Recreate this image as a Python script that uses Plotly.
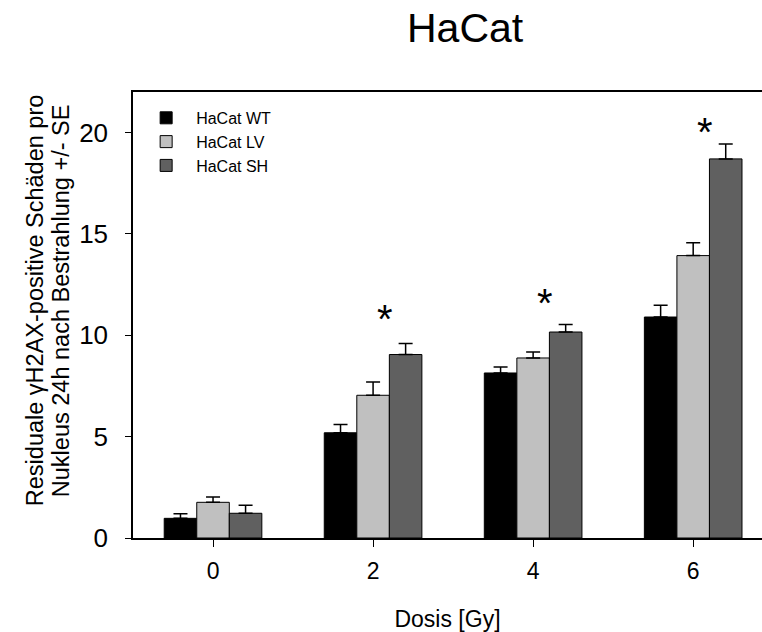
import plotly.graph_objects as go

doses = [0, 2, 4, 6]
series_names = ["HaCat WT", "HaCat LV", "HaCat SH"]
wt_mean = [0.97, 5.19, 8.14, 10.9]
wt_se = [0.23, 0.41, 0.30, 0.58]
lv_mean = [1.76, 7.04, 8.88, 13.93]
lv_se = [0.26, 0.66, 0.30, 0.64]
sh_mean = [1.22, 9.05, 10.16, 18.7]
sh_se = [0.39, 0.55, 0.37, 0.74]
star_doses = [2, 4, 6]
star_y = [11.1, 11.9, 20.3]
y_title_lines = ["Residuale γH2AX-positive Schäden pro", "Nukleus 24h nach Bestrahlung +/- SE"]

colors = ["#000000", "#c0c0c0", "#606060"]
FONT = "Arial, 'Liberation Sans', sans-serif"

fig = go.Figure()
for name, m, s, c in zip(series_names, [wt_mean, lv_mean, sh_mean], [wt_se, lv_se, sh_se], colors):
    fig.add_trace(go.Bar(
        x=doses, y=m, name=name,
        marker=dict(color=c, line=dict(color="#000000", width=1)),
        error_y=dict(type="data", array=s, arrayminus=[0] * len(s), symmetric=False,
                     color="#000000", thickness=1.5, width=7),
    ))

for xd, yv in zip(star_doses, star_y):
    fig.add_annotation(x=xd + 0.15, y=yv, text="*", showarrow=False,
                       font=dict(family=FONT, size=40, color="#000000"),
                       xref="x", yref="y", yanchor="middle", yshift=-6)

# y-axis title, two rotated lines
for i, line in enumerate(y_title_lines):
    fig.add_annotation(x=0, y=0.531, xref="paper", yref="paper", text=line, textangle=-90,
                       showarrow=False, xanchor="center", yanchor="middle",
                       xshift=-98 + 26 * i,
                       font=dict(family=FONT, size=23.5, color="#000000"))

fig.update_layout(
    width=762, height=632,
    margin=dict(l=133, r=0, t=92, b=94),
    paper_bgcolor="white", plot_bgcolor="white",
    barmode="group", bargap=0.39, bargroupgap=0,
    font=dict(family=FONT, color="#000000"),
    title=dict(text="HaCat", font=dict(family=FONT, size=41, color="#000000"),
               x=0.528, xref="paper", xanchor="center", y=0.957, yref="container", yanchor="middle"),
    showlegend=True,
    legend=dict(x=0.005, y=0.98, xanchor="left", yanchor="top",
                font=dict(family=FONT, size=16, color="#000000"),
                bgcolor="rgba(0,0,0,0)", itemwidth=50, tracegroupgap=0),
    xaxis=dict(range=[-1, 6.86], tickvals=doses, ticktext=[str(d) for d in doses],
               showline=True, linecolor="#000000", linewidth=1.5, mirror=True,
               ticks="outside", ticklen=7, tickcolor="#000000", showgrid=False, zeroline=False,
               tickfont=dict(family=FONT, size=23, color="#000000"), ticklabelstandoff=5,
               title=dict(text="Dosis [Gy]", font=dict(family=FONT, size=23, color="#000000"), standoff=30)),
    yaxis=dict(range=[0, 22], tickvals=[0, 5, 10, 15, 20],
               showline=True, linecolor="#000000", linewidth=1.5,
               ticks="outside", ticklen=6, tickcolor="#000000", showgrid=False, zeroline=False,
               tickfont=dict(family=FONT, size=26, color="#000000"), ticklabelstandoff=12),
)

fig.write_html("out.html", config={"displayModeBar": False},
               post_script="document.body.style.margin='0';document.body.style.overflow='hidden';")
